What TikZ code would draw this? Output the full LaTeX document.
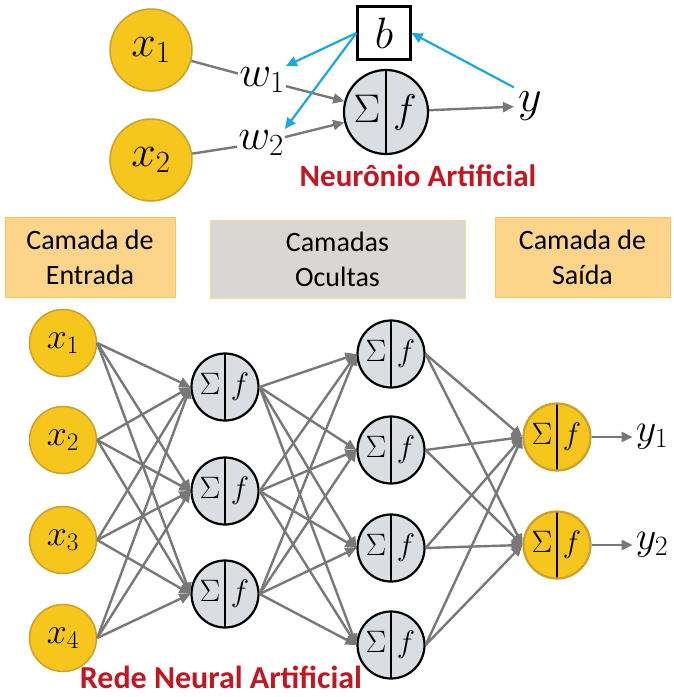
\RequirePackage{fix-cm}
\documentclass[tikz,border=0pt]{standalone}
\usepackage{fontspec}
\setmainfont{Carlito}
\usepackage{tikz}
\usetikzlibrary{arrows.meta,positioning,calc}
\definecolor{inbg}{RGB}{246,198,28}
\definecolor{inline}{RGB}{205,160,40}
\definecolor{neurbg}{RGB}{218,221,225}
\definecolor{linkgray}{RGB}{120,120,120}
\definecolor{biascyan}{RGB}{28,168,220}
\definecolor{titlered}{RGB}{196,22,34}
\definecolor{layerbg}{RGB}{252,212,138}
\definecolor{layerline}{RGB}{246,200,92}
\definecolor{hidbg}{RGB}{217,215,214}
\definecolor{hidline}{RGB}{240,226,140}
\newcommand{\sigf}[1]{\makebox[#1]{$\Sigma$}\makebox[#1]{$f$}}
\tikzset{
  innode/.style={
    circle,
    draw=inline,
    fill=inbg,
    line width=1.5pt,
    minimum size=67pt,
    inner sep=0pt,
    font=\fontsize{36}{36}\selectfont
  },
  neuron/.style={
    circle,
    draw=black,
    fill=neurbg,
    line width=2.2pt,
    minimum size=67pt,
    inner sep=0pt,
    font=\fontsize{31}{31}\selectfont,
    path picture={\draw[black, line width=2.2pt]
      (path picture bounding box.north) -- (path picture bounding box.south);}
  },
  outneuron/.style={neuron, draw=inline, fill=inbg},
  layerbox/.style={
    draw=layerline,
    fill=layerbg,
    line width=1pt,
    align=center,
    inner sep=0pt,
    minimum height=80pt,
    font=\fontsize{28}{35}\selectfont
  },
  hidbox/.style={layerbox, draw=hidline, fill=hidbg, minimum height=78pt},
  title/.style={text=titlered, inner sep=0pt, font=\fontsize{31}{31}\selectfont\bfseries},
  link/.style={draw=linkgray, line width=2.4pt},
  linkarrow/.style={link, -{Triangle[length=11pt,width=10pt]}},
  biasarrow/.style={draw=biascyan, line width=2.2pt, -{Triangle[length=11pt,width=10pt]}}
}

\begin{document}
\begin{tikzpicture}[x=1pt, y=-1pt]
  \useasboundingbox (0,0) rectangle (673,697);
  % neuronio isolado
  \node[innode, minimum size=82pt, font=\fontsize{44}{44}\selectfont] (tx1) at (151,50) {$x_1$};
  \node[innode, minimum size=82pt, font=\fontsize{44}{44}\selectfont] (tx2) at (151,160) {$x_2$};
  \node[inner sep=1pt, font=\fontsize{44}{44}\selectfont] (tw1) at (262,80) {$w_1$};
  \node[inner sep=1pt, font=\fontsize{44}{44}\selectfont] (tw2) at (261,143) {$w_2$};
  \node[neuron, minimum size=84pt, font=\fontsize{40}{40}\selectfont] (tneu) at (386,112) {\sigf{38pt}};
  \node[draw, line width=2.2pt, minimum size=53pt, inner sep=0pt, font=\fontsize{44}{44}\selectfont] (tb) at (384,33) {$b$};
  \node[inner sep=4pt, font=\fontsize{46}{46}\selectfont] (ty) at (530,106) {$y$};
  \node[title] (tneutitle) at (418,176) {Neurônio Artificial};

  \draw[link] (tx1) -- (tw1);
  \draw[link] (tx2) -- (tw2);
  \draw[linkarrow] (tw1) -- (tneu);
  \draw[linkarrow] (tw2) -- (tneu);
  \draw[linkarrow] (tneu) -- (ty);
  \draw[biasarrow] (tb.west) -- (tw1.north east);
  \draw[biasarrow] (tb.west) -- (tw2.north east);
  \draw[biasarrow] (ty.north west) -- (tb.east);

  % camadas
  \node[layerbox, minimum width=170pt] (lin) at (90,257) {Camada de\\Entrada};
  \node[hidbox, minimum width=255pt] (lhid) at (337.5,259) {Camadas\\Ocultas};
  \node[layerbox, minimum width=175pt] (lout) at (582.5,257) {Camada de\\Saída};

  % rede
  \node[innode] (in1) at (63,343) {$x_1$};
  \node[innode] (in2) at (63,440) {$x_2$};
  \node[innode] (in3) at (63,540) {$x_3$};
  \node[innode] (in4) at (63,638) {$x_4$};

  \node[neuron] (h1) at (225,387) {\sigf{30pt}};
  \node[neuron] (h2) at (225,491) {\sigf{30pt}};
  \node[neuron] (h3) at (225,594) {\sigf{30pt}};

  \node[neuron] (g1) at (391,354) {\sigf{30pt}};
  \node[neuron] (g2) at (391,450) {\sigf{30pt}};
  \node[neuron] (g3) at (391,548) {\sigf{30pt}};
  \node[neuron] (g4) at (391,645) {\sigf{30pt}};

  \node[outneuron] (o1) at (557,437) {\sigf{30pt}};
  \node[outneuron] (o2) at (557,545) {\sigf{30pt}};

  \node[inner sep=3pt, font=\fontsize{40}{40}\selectfont] (y1) at (652,437) {$y_1$};
  \node[inner sep=3pt, font=\fontsize{40}{40}\selectfont] (y2) at (652,545) {$y_2$};

  \node[title, font=\fontsize{32}{32}\selectfont\bfseries] (redetitle) at (221,677) {Rede Neural Artificial};

  \foreach \i in {1,...,4}
    \foreach \j in {1,...,3}
      \draw[linkarrow] (in\i.east) -- (h\j.west);
  \foreach \i in {1,...,3}
    \foreach \j in {1,...,4}
      \draw[linkarrow] (h\i.east) -- (g\j.west);
  \foreach \i in {1,...,4}
    \foreach \j in {1,2}
      \draw[linkarrow] (g\i.east) -- (o\j.west);
  \draw[linkarrow] (o1) -- (y1);
  \draw[linkarrow] (o2) -- (y2);
\end{tikzpicture}
\end{document}
